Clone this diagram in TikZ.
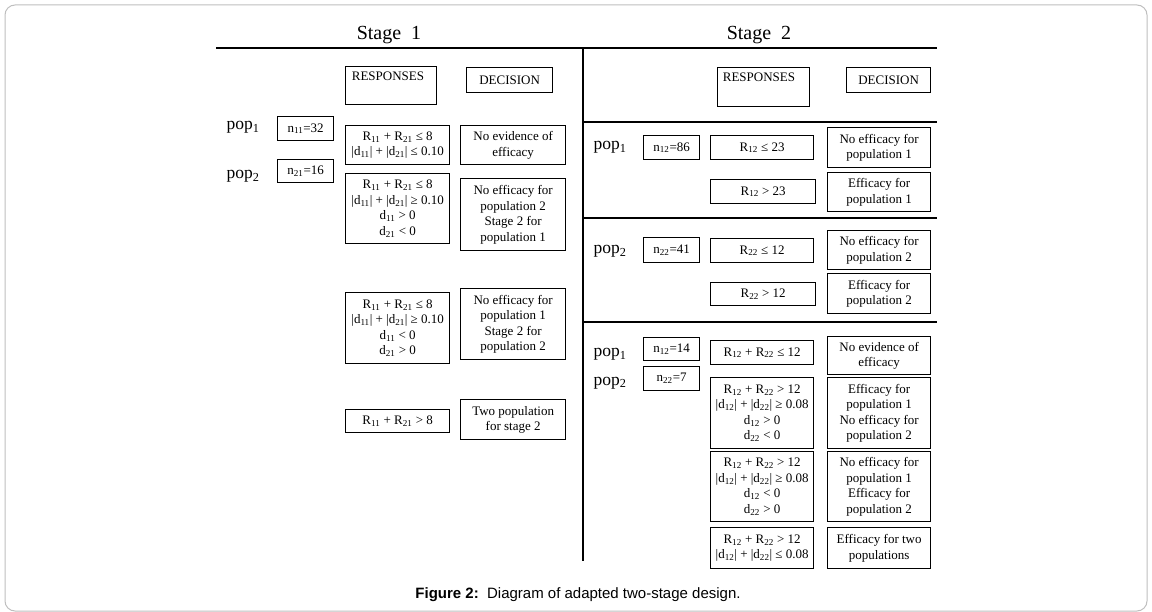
\documentclass[tikz,border=0pt]{standalone}
\usepackage{fontspec}
\setmainfont{Liberation Serif}
\newfontfamily\capfont{Liberation Sans}
\newcommand\bxfont{\fontsize{13}{15.5}\selectfont}
\newcommand\bx[6]{\node[box, anchor=north west, minimum width={#4-#2}, minimum height={#5-#3}] (#1) at (#2,#3) {#6};}
\newcommand\sub[1]{\textsubscript{#1}}
\begin{document}
\begin{tikzpicture}[x=1pt,y=-1pt,
  box/.style={draw, line width=1.3pt, inner sep=0pt, align=center, font=\bxfont},
  rule/.style={line width=1.8pt},
  ttl/.style={font=\fontsize{20}{24}\selectfont, anchor=base},
  poplab/.style={font=\fontsize{17.5}{20}\selectfont, anchor=base west},
  hdr/.style={font=\bxfont, anchor=base}]
\useasboundingbox (0,0) rectangle (1152,612);
\draw[black!25, line width=1pt, rounded corners=10pt] (5,5) rectangle (1147,611);

% rules
\coordinate (hL) at (216,48); \coordinate (hR) at (937,48);
\coordinate (vT) at (583,48); \coordinate (vB) at (583,561);
\coordinate (a1) at (583,122); \coordinate (b1) at (937,122);
\coordinate (a2) at (583,218); \coordinate (b2) at (937,218);
\coordinate (a3) at (583,322); \coordinate (b3) at (937,322);
\draw[rule] (hL) -- (hR);
\draw[rule] (vT) -- (vB);
\draw[rule] (a1) -- (b1);
\draw[rule] (a2) -- (b2);
\draw[rule] (a3) -- (b3);

% titles
\node[ttl] (st1) at (389,40) {Stage\ \ 1};
\node[ttl] (st2) at (759,40) {Stage\ \ 2};

% ---------- Stage 1 ----------
\bx{resA}{345}{66}{436}{104}{}
\node[hdr] (resAt) at (388,81) {RESPONSES};
\bx{decA}{466}{67}{552}{92}{DECISION}

\node[poplab] (p1a) at (223,130) {pop\sub{1}};
\node[poplab] (p2a) at (223,179) {pop\sub{2}};
\bx{n11}{277}{116}{333}{140}{n\sub{11}=32}
\bx{n21}{277}{159}{333}{182}{n\sub{21}=16}

\bx{ra1}{345}{125}{449}{164}{R\sub{11} + R\sub{21} ≤ 8\\|d\sub{11}| + |d\sub{21}| ≤ 0.10}
\bx{da1}{460}{125}{565}{164}{No evidence of\\efficacy}

\bx{ra2}{345}{173}{449}{243}{R\sub{11} + R\sub{21} ≤ 8\\|d\sub{11}| + |d\sub{21}| ≥ 0.10\\d\sub{11} > 0\\d\sub{21} < 0}
\bx{da2}{460}{178}{565}{250}{No efficacy for\\population 2\\Stage 2 for\\population 1}

\bx{ra3}{345}{292}{449}{363}{R\sub{11} + R\sub{21} ≤ 8\\|d\sub{11}| + |d\sub{21}| ≥ 0.10\\d\sub{11} < 0\\d\sub{21} > 0}
\bx{da3}{460}{288}{565}{359}{No efficacy for\\population 1\\Stage 2 for\\population 2}

\bx{ra4}{345}{409}{449}{432}{R\sub{11} + R\sub{21} > 8}
\bx{da4}{460}{399}{565}{439}{Two population\\for stage 2}

% ---------- Stage 2 ----------
\bx{resB}{717}{67}{809}{106}{}
\node[hdr] (resBt) at (759,82) {RESPONSES};
\bx{decB}{846}{67}{930}{92}{DECISION}

% block 1
\node[poplab] (p1b) at (590,150) {pop\sub{1}};
\bx{n12}{643}{135}{699}{159}{n\sub{12}=86}
\bx{rb1}{710}{135}{813}{159}{R\sub{12} ≤ 23}
\bx{db1}{827}{127}{930}{167}{No efficacy for\\population 1}
\bx{rb2}{710}{179}{815}{203}{R\sub{12} > 23}
\bx{db2}{827}{172}{930}{211}{Efficacy for\\population 1}

% block 2
\node[poplab] (p2b) at (590,254) {pop\sub{2}};
\bx{n22}{643}{237}{699}{262}{n\sub{22}=41}
\bx{rb3}{710}{238}{813}{262}{R\sub{22} ≤ 12}
\bx{db3}{827}{230}{930}{269}{No efficacy for\\population 2}
\bx{rb4}{710}{282}{815}{305}{R\sub{22} > 12}
\bx{db4}{827}{273}{930}{313}{Efficacy for\\population 2}

% block 3
\node[poplab] (p1c) at (590,357) {pop\sub{1}};
\node[poplab] (p2c) at (590,385) {pop\sub{2}};
\bx{n12b}{643}{337}{699}{360}{n\sub{12}=14}
\bx{n22b}{643}{366}{699}{390}{n\sub{22}=7}
\bx{rc1}{710}{340}{813}{364}{R\sub{12} + R\sub{22} ≤ 12}
\bx{dc1}{827}{336}{930}{374}{No evidence of\\efficacy}
\bx{rc2}{710}{377}{813}{448}{R\sub{12} + R\sub{22} > 12\\|d\sub{12}| + |d\sub{22}| ≥ 0.08\\d\sub{12} > 0\\d\sub{22} < 0}
\bx{dc2}{827}{377}{930}{448}{Efficacy for\\population 1\\No efficacy for\\population 2}
\bx{rc3}{710}{451}{813}{521}{R\sub{12} + R\sub{22} > 12\\|d\sub{12}| + |d\sub{22}| ≥ 0.08\\d\sub{12} < 0\\d\sub{22} > 0}
\bx{dc3}{827}{451}{930}{521}{No efficacy for\\population 1\\Efficacy for\\population 2}
\bx{rc4}{710}{527}{813}{568}{R\sub{12} + R\sub{22} > 12\\|d\sub{12}| + |d\sub{22}| ≤ 0.08}
\bx{dc4}{827}{527}{930}{568}{Efficacy for two\\populations}

% caption
\node[anchor=base, font=\capfont\fontsize{15}{17}\selectfont] (cap) at (578,598) {\textbf{Figure 2:}\ \ Diagram of adapted two-stage design.};
\end{tikzpicture}
\end{document}
